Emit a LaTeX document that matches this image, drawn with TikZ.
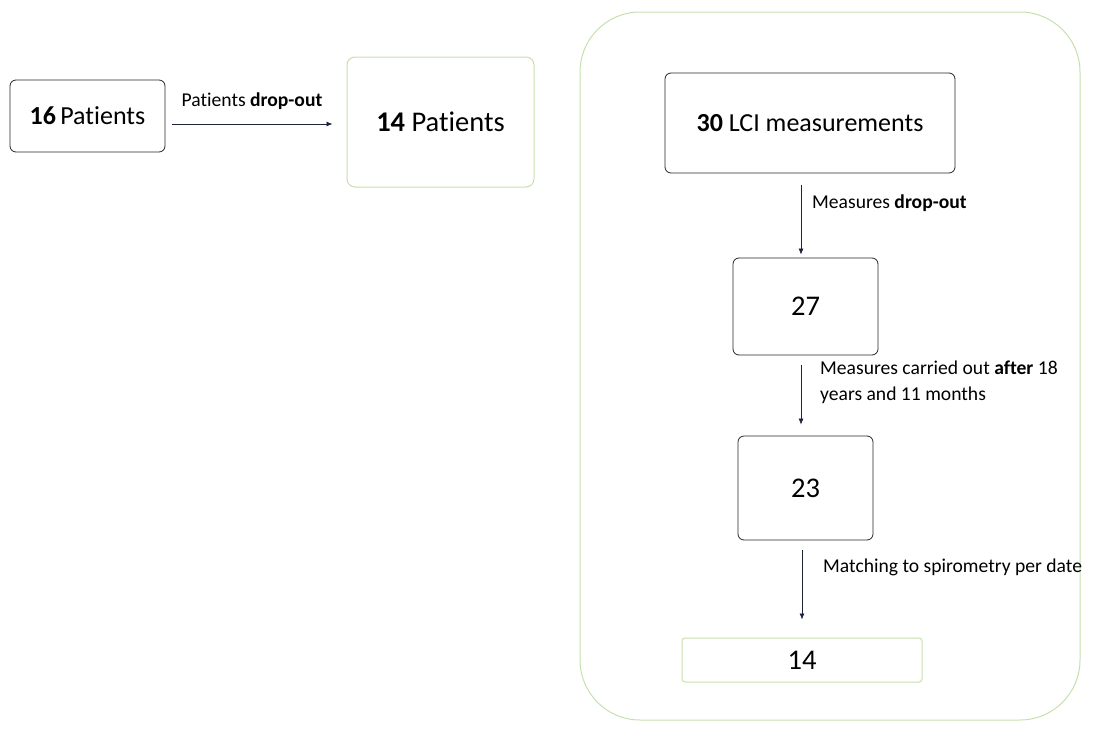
\documentclass[tikz,border=0pt]{standalone}
\usepackage{fontspec}
\setmainfont{Carlito}[Ligatures=NoCommon]
\usetikzlibrary{arrows.meta}
\definecolor{lgreen}{RGB}{197,224,170}
\definecolor{arr}{RGB}{30,35,60}
\begin{document}
\begin{tikzpicture}[x=1pt,y=-1pt,
  box/.style={draw=black!85, line width=0.8pt, rounded corners=6pt, inner sep=0pt, font=\fontsize{26}{30}\selectfont},
  gbox/.style={draw=lgreen, line width=1pt, rounded corners=8pt, inner sep=0pt, font=\fontsize{26}{30}\selectfont},
  big/.style={font=\fontsize{28.5}{32}\selectfont},
  lbl/.style={inner sep=0pt, font=\fontsize{19.6}{26}\selectfont, align=left},
  arrow/.style={draw=arr, line width=0.7pt, -{Latex[length=6pt,width=5pt]}}
]
\useasboundingbox (0,0) rectangle (1093,731);
\node[gbox, rounded corners=60pt, minimum width=500pt, minimum height=708pt] (cont) at (830,366) {};
\node[box, minimum width=155pt, minimum height=72pt] (p16) at (87.5,116) {\textbf{16}\,Patients};
\node[gbox, big, minimum width=187pt, minimum height=130pt] (p14) at (440.5,122) {\textbf{14} Patients};
\node[box, minimum width=290pt, minimum height=100pt] (l30) at (810,123) {\textbf{30} LCI measurements};
\node[box, big, minimum width=145pt, minimum height=97pt] (n27) at (805.5,306.5) {27};
\node[box, big, minimum width=135pt, minimum height=104pt] (n23) at (805.5,488) {23};
\node[gbox, big, rounded corners=3pt, minimum width=240pt, minimum height=44pt] (n14) at (802,660) {14};

\draw[arrow] ([shift={(7,8)}]p16.east) -- ([shift={(-14,2)}]p14.west);
\node[lbl] (t1) at (252,101) {Patients \textbf{drop-out}};
\draw[arrow] ([shift={(-9,12)}]l30.south) -- ([shift={(-4.5,-3)}]n27.north);
\node[lbl, anchor=west] (t2) at (812,203) {Measures \textbf{drop-out}};
\draw[arrow] ([shift={(-4.5,10)}]n27.south) -- ([shift={(-4.5,-11)}]n23.north);
\node[lbl, anchor=west] (t3) at (820,382) {Measures carried out \textbf{after} 18\\years and 11 months};
\draw[arrow] ([shift={(-3.5,10)}]n23.south) -- ([shift={(0,-18)}]n14.north);
\node[lbl, anchor=west] (t4) at (823,567) {Matching to spirometry per date};
\end{tikzpicture}
\end{document}
